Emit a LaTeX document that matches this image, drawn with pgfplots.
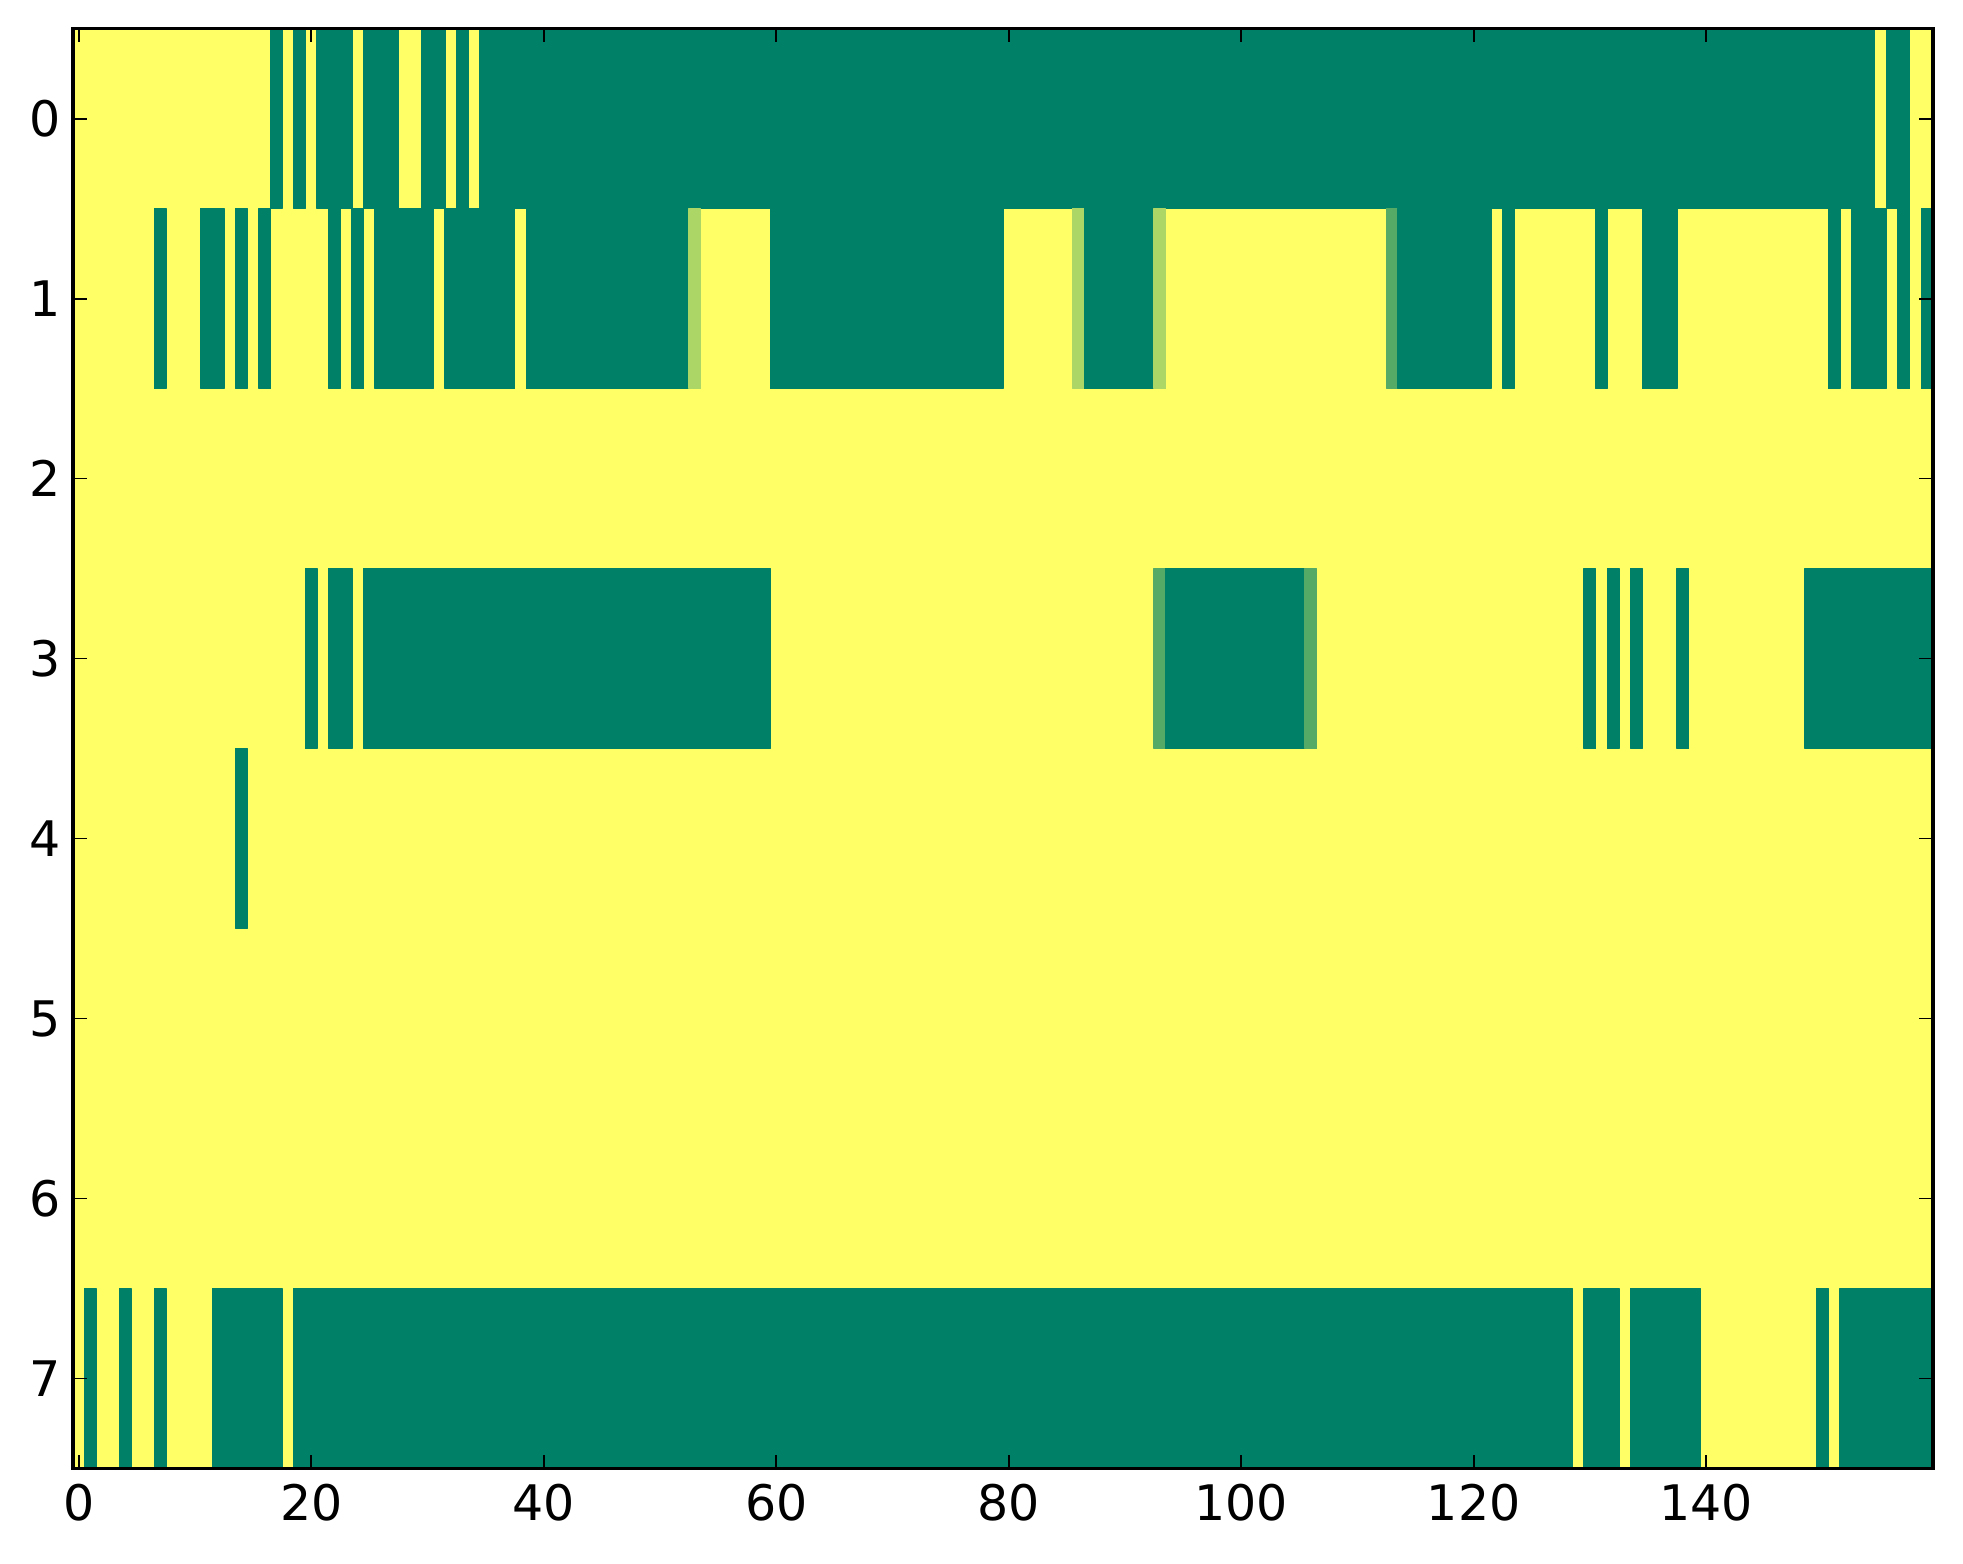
\documentclass[border=0pt]{standalone}
\usepackage{fontspec}
\setmainfont{DejaVu Sans}
\usepackage{pgfplots}
\usepackage{pgfplotstable}
\pgfplotsset{compat=1.18}

% non-yellow runs of the image, one line per run (cells first..last of a row)
% every cell not listed here has value 1
\pgfplotstableread{
row first last value
0 17 17 0
0 19 19 0
0 21 23 0
0 25 27 0
0 30 31 0
0 33 33 0
0 35 154 0
0 156 157 0
1 7 7 0
1 11 12 0
1 14 14 0
1 16 16 0
1 22 22 0
1 24 24 0
1 26 30 0
1 32 37 0
1 39 52 0
1 53 53 0.67
1 60 79 0
1 86 86 0.67
1 87 92 0
1 93 93 0.67
1 113 113 0.33
1 114 121 0
1 123 123 0
1 131 131 0
1 135 137 0
1 151 151 0
1 153 155 0
1 157 157 0
1 159 159 0
3 20 20 0
3 22 23 0
3 25 59 0
3 93 93 0.33
3 94 105 0
3 106 106 0.33
3 130 130 0
3 132 132 0
3 134 134 0
3 138 138 0
3 149 159 0
4 14 14 0
7 1 1 0
7 4 4 0
7 7 7 0
7 12 17 0
7 19 128 0
7 130 132 0
7 134 139 0
7 150 150 0
7 152 159 0
}\runs
\pgfplotstablegetrowsof{\runs}
\pgfmathtruncatemacro\lastrun{\pgfplotsretval-1}

\begin{document}
\begin{tikzpicture}
\begin{axis}[
    scale only axis,
    width=546.7pt, height=423.2pt,
    xmin=-0.5, xmax=159.5,
    ymin=-0.5, ymax=7.5,
    y dir=reverse,
    xtick={0,20,...,140},
    ytick={0,...,7},
    tick align=inside,
    major tick length=4pt,
    major tick style={black, line width=0.5pt},
    axis line style={line width=1pt},
    axis on top,
    colormap={summer}{rgb=(0,0.5,0.4) rgb=(1,1,0.4)},
    point meta min=0, point meta max=1,
    tick label style={font=\fontsize{14.4}{17}\selectfont},
    /pgf/number format/assume math mode=true,
    xticklabel style={yshift=-1.2pt},
]
% whole image at value 1
\addplot[patch, patch type=rectangle, shader=flat, point meta=explicit]
  coordinates {(-0.5,-0.5) [1] (159.5,-0.5) [1] (159.5,7.5) [1] (-0.5,7.5) [1]};

\pgfplotsforeachungrouped \i in {0,...,\lastrun}{
  \pgfplotstablegetelem{\i}{row}\of\runs \let\runrow\pgfplotsretval
  \pgfplotstablegetelem{\i}{first}\of\runs \let\runfirst\pgfplotsretval
  \pgfplotstablegetelem{\i}{last}\of\runs \let\runlast\pgfplotsretval
  \pgfplotstablegetelem{\i}{value}\of\runs \let\runval\pgfplotsretval
  \pgfmathsetmacro\xa{\runfirst-0.5}\pgfmathsetmacro\xb{\runlast+0.5}
  \pgfmathsetmacro\ya{\runrow-0.5}\pgfmathsetmacro\yb{\runrow+0.5}
  \edef\cmd{\noexpand\addplot[patch, patch type=rectangle, shader=flat, point meta=explicit]
    coordinates {(\xa,\ya) [\runval] (\xb,\ya) [\runval] (\xb,\yb) [\runval] (\xa,\yb) [\runval]};}
  \cmd
}
\end{axis}
\path[use as bounding box] ([xshift=-21.43pt,yshift=-28.07pt]current axis.south west)
  rectangle ([xshift=8.85pt,yshift=8.43pt]current axis.north east);
\end{tikzpicture}
\end{document}
